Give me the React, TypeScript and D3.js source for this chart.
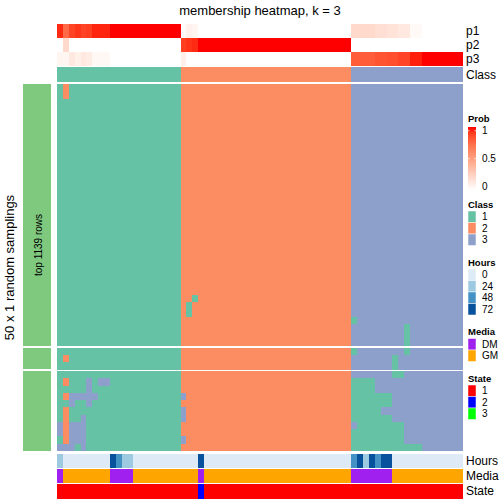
import React from 'react';
import * as d3 from 'd3';

const TITLE = 'membership heatmap, k = 3';
const ROW_TITLE = '50 x 1 random samplings';
const SLICE_LABEL = 'top 1139 rows';

// class of each sampled column (69 columns)
const colClass = [
  1, 1, 1, 1, 1, 1, 1, 1, 1, 1, 1, 1, 1, 1, 1, 1, 1, 1, 1, 1, 1,
  2, 2, 2, 2, 2, 2, 2, 2, 2, 2, 2, 2, 2, 2, 2, 2, 2, 2, 2, 2, 2, 2, 2, 2, 2, 2, 2, 2, 2,
  3, 3, 3, 3, 3, 3, 3, 3, 3, 3, 3, 3, 3, 3, 3, 3, 3, 3, 3,
];

const p1 = [
  0.95, 0.75, 0.88, 0.92, 0.88, 0.9, 0.96, 0.96, 0.96, 1, 1, 1, 1, 1, 1, 1, 1, 1, 1, 1, 1,
  0.02, 0.07, 0.05, 0, 0, 0, 0, 0, 0, 0, 0, 0, 0, 0, 0, 0, 0, 0, 0, 0, 0, 0, 0, 0, 0, 0, 0, 0, 0,
  0.2, 0.2, 0.2, 0.2, 0.17, 0.17, 0.15, 0.15, 0.12, 0.12, 0.03, 0.03, 0, 0, 0, 0, 0, 0, 0,
];
const p2 = [
  0, 0.2, 0, 0, 0, 0, 0, 0, 0, 0, 0, 0, 0, 0, 0, 0, 0, 0, 0, 0, 0,
  0.9, 0.93, 0.95, 1, 1, 1, 1, 1, 1, 1, 1, 1, 1, 1, 1, 1, 1, 1, 1, 1, 1, 1, 1, 1, 1, 1, 1, 1, 1,
  0, 0, 0, 0, 0, 0, 0, 0, 0, 0, 0, 0, 0, 0, 0, 0, 0, 0, 0,
];
const p3 = [
  0.05, 0.05, 0.12, 0.08, 0.12, 0.1, 0.04, 0.04, 0.04, 0, 0, 0, 0, 0, 0, 0, 0, 0, 0, 0, 0,
  0.08, 0, 0, 0, 0, 0, 0, 0, 0, 0, 0, 0, 0, 0, 0, 0, 0, 0, 0, 0, 0, 0, 0, 0, 0, 0, 0, 0, 0,
  0.8, 0.8, 0.8, 0.8, 0.83, 0.83, 0.85, 0.85, 0.88, 0.88, 0.97, 0.97, 1, 1, 1, 1, 1, 1, 1,
];

const hours = [
  24, 0, 0, 0, 0, 0, 0, 0, 0, 72, 48, 24, 24, 0, 0, 0, 0, 0, 0, 0, 0, 0, 0, 0, 72,
  0, 0, 0, 0, 0, 0, 0, 0, 0, 0, 0, 0, 0, 0, 0, 0, 0, 0, 0, 0, 0, 0, 0, 0, 0,
  48, 72, 24, 72, 48, 72, 72, 0, 0, 0, 0, 0, 0, 0, 0, 0, 0, 0, 0,
];
const media = [
  'DM', 'GM', 'GM', 'GM', 'GM', 'GM', 'GM', 'GM', 'GM', 'DM', 'DM', 'DM', 'DM',
  'GM', 'GM', 'GM', 'GM', 'GM', 'GM', 'GM', 'GM', 'GM', 'GM', 'GM', 'DM',
  'GM', 'GM', 'GM', 'GM', 'GM', 'GM', 'GM', 'GM', 'GM', 'GM', 'GM', 'GM', 'GM',
  'GM', 'GM', 'GM', 'GM', 'GM', 'GM', 'GM', 'GM', 'GM', 'GM', 'GM', 'GM',
  'DM', 'DM', 'DM', 'DM', 'DM', 'DM', 'DM',
  'GM', 'GM', 'GM', 'GM', 'GM', 'GM', 'GM', 'GM', 'GM', 'GM', 'GM', 'GM',
];
const state = [
  '1', '1', '1', '1', '1', '1', '1', '1', '1', '1', '1', '1', '1', '1', '1', '1', '1', '1', '1', '1', '1', '1', '1', '1',
  '2',
  '1', '1', '1', '1', '1', '1', '1', '1', '1', '1', '1', '1', '1', '1', '1', '1', '1', '1', '1', '1', '1', '1', '1', '1', '1',
  '1', '1', '1', '1', '1', '1', '1', '1', '1', '1', '1', '1', '1', '1', '1', '1', '1', '1', '1',
];

// rows per slice of the membership body
const sliceSizes = [36, 3, 11];
// cells whose class differs from the column class: [slice, row, fromCol, toCol, class]
const cellOverrides: number[][] = [
  [0, 0, 1, 1, 2], [0, 1, 1, 1, 2],
  [0, 29, 23, 23, 1], [0, 30, 22, 22, 1], [0, 31, 22, 22, 1],
  [0, 32, 50, 50, 1], [0, 33, 59, 59, 1], [0, 34, 59, 59, 1], [0, 35, 59, 59, 1],
  [1, 0, 50, 50, 1], [1, 0, 59, 59, 1], [1, 1, 1, 1, 2], [1, 1, 57, 57, 1], [1, 2, 57, 57, 1],
  [2, 0, 57, 58, 1],
  [2, 1, 1, 1, 2], [2, 1, 5, 5, 3], [2, 1, 7, 8, 3], [2, 1, 50, 53, 1],
  [2, 2, 5, 5, 3], [2, 2, 50, 53, 1],
  [2, 3, 1, 1, 2], [2, 3, 2, 6, 3], [2, 3, 21, 21, 3], [2, 3, 50, 56, 1],
  [2, 4, 2, 2, 3], [2, 4, 5, 5, 3], [2, 4, 50, 56, 1],
  [2, 5, 1, 1, 2], [2, 5, 21, 21, 3], [2, 5, 50, 54, 1],
  [2, 6, 1, 1, 2], [2, 6, 4, 4, 3], [2, 6, 21, 21, 3], [2, 6, 50, 56, 1],
  [2, 7, 0, 0, 3], [2, 7, 1, 1, 2], [2, 7, 2, 4, 3], [2, 7, 51, 58, 1],
  [2, 8, 0, 0, 3], [2, 8, 1, 1, 2], [2, 8, 2, 4, 3], [2, 8, 50, 58, 1],
  [2, 9, 1, 1, 2], [2, 9, 2, 4, 3], [2, 9, 21, 21, 3], [2, 9, 50, 58, 1],
  [2, 10, 0, 2, 3], [2, 10, 4, 4, 3], [2, 10, 50, 61, 1],
];

const classLevels = ['1', '2', '3'];
const classColors = ['#66C2A5', '#FC8D62', '#8DA0CB'];
const hourLevels = ['0', '24', '48', '72'];
const hourColors = ['#DEEBF7', '#9ECAE1', '#4292C6', '#08519C'];
const mediaLevels = ['DM', 'GM'];
const mediaColors = ['#A020F0', '#FFA500'];
const stateLevels = ['1', '2', '3'];
const stateColors = ['#FF0000', '#0000FF', '#00FF00'];
const probTicks = [0, 0.5, 1];

const FONT = '"Liberation Sans", Arial, Helvetica, sans-serif';

export default function App() {
  const nCol = colClass.length;
  const x = d3.scaleBand<number>().domain(d3.range(nCol)).range([57, 463]);
  const cw = x.bandwidth();
  const classColor = d3.scaleOrdinal<string, string>().domain(classLevels).range(classColors);
  const hourColor = d3.scaleOrdinal<string, string>().domain(hourLevels).range(hourColors);
  const mediaColor = d3.scaleOrdinal<string, string>().domain(mediaLevels).range(mediaColors);
  const stateColor = d3.scaleOrdinal<string, string>().domain(stateLevels).range(stateColors);
  const probColor = d3
    .scaleLinear<string>()
    .domain([0, 1])
    .range(['#FFFFFF', '#FF0000'])
    .interpolate(d3.interpolateLab);

  // body layout
  const bodyTop = 84;
  const bodyBottom = 451;
  const gap = 1.6;
  const nRows = d3.sum(sliceSizes);
  const rowH = (bodyBottom - bodyTop - gap * (sliceSizes.length - 1)) / nRows;
  const slices = sliceSizes.map((n, s) => {
    const y0 = bodyTop + d3.sum(sliceSizes.slice(0, s)) * rowH + s * gap;
    const y = d3.scaleBand<number>().domain(d3.range(n)).range([y0, y0 + n * rowH]);
    const rows = d3.range(n).map((r) => {
      const row = colClass.slice();
      cellOverrides
        .filter((o) => o[0] === s && o[1] === r)
        .forEach((o) => {
          for (let c = o[2]; c <= o[3]; c++) row[c] = o[4];
        });
      return row;
    });
    return { y, rows, y0, y1: y0 + n * rowH };
  });

  const topRows = [
    { name: 'p1', vals: p1, y0: 24, y1: 38 },
    { name: 'p2', vals: p2, y0: 38, y1: 52 },
    { name: 'p3', vals: p3, y0: 52, y1: 66 },
  ];
  const classRow = { y0: 67, y1: 82.3 };
  const bottomRows = [
    { name: 'Hours', vals: hours.map(String), color: hourColor, y0: 454, y1: 467.8 },
    { name: 'Media', vals: media, color: mediaColor, y0: 469, y1: 482.8 },
    { name: 'State', vals: state, color: stateColor, y0: 484, y1: 498.7 },
  ];

  // legends
  const legX = 468;
  const sqW = 8;
  const sqH = 11.5;
  const legGap = 16.5;
  const titleToItems = 7;
  const discrete = [
    { title: 'Class', levels: classLevels, color: classColor },
    { title: 'Hours', levels: hourLevels, color: hourColor },
    { title: 'Media', levels: mediaLevels, color: mediaColor },
    { title: 'State', levels: stateLevels, color: stateColor },
  ];
  let cursor = 204; // title centre of first discrete legend
  const legends = discrete.map((d) => {
    const t = cursor;
    const y0 = t + titleToItems;
    cursor = y0 + d.levels.length * sqH + legGap;
    return { ...d, tc: t, y0 };
  });
  const probY = d3.scaleLinear().domain([0, 1]).range([186.5, 130.7]);

  const midBody = (bodyTop + bodyBottom) / 2;

  return (
    <svg
      width={504}
      height={504}
      style={{ position: 'absolute', left: 0, top: 0, background: '#fff' }}
      fontFamily={FONT}
    >
      <defs>
        <linearGradient id="probGrad" x1="0" y1="1" x2="0" y2="0">
          {d3.range(11).map((i) => (
            <stop key={i} offset={`${i * 10}%`} stopColor={probColor(i / 10)} />
          ))}
        </linearGradient>
      </defs>
      <text x={260} y={15} textAnchor="middle" fontSize={13} fill="#000">
        {TITLE}
      </text>

      {/* top probability rows */}
      <g shapeRendering="crispEdges">
        {topRows.map((tr) =>
          tr.vals.map((v, c) => (
            <rect
              key={tr.name + c}
              x={x(c)}
              y={tr.y0}
              width={cw + 0.3}
              height={tr.y1 - tr.y0}
              fill={probColor(v)}
            />
          ))
        )}
        {colClass.map((k, c) => (
          <rect
            key={'cl' + c}
            x={x(c)}
            y={classRow.y0}
            width={cw + 0.3}
            height={classRow.y1 - classRow.y0}
            fill={classColor(String(k))}
          />
        ))}
      </g>
      {topRows.map((tr) => (
        <text key={'l' + tr.name} x={466} y={(tr.y0 + tr.y1) / 2 + 4} fontSize={12}>
          {tr.name}
        </text>
      ))}
      <text x={466} y={(classRow.y0 + classRow.y1) / 2 + 4} fontSize={12}>
        Class
      </text>

      {/* body */}
      <g shapeRendering="crispEdges">
        {slices.map((sl, s) =>
          sl.rows.map((row, r) =>
            row.map((k, c) => (
              <rect
                key={`${s}-${r}-${c}`}
                x={x(c)}
                y={sl.y(r)}
                width={cw + 0.3}
                height={sl.y.bandwidth() + 0.3}
                fill={classColor(String(k))}
              />
            ))
          )
        )}
        {slices.map((sl, s) => (
          <rect key={'lb' + s} x={23} y={sl.y0} width={28} height={sl.y1 - sl.y0} fill="#7FC97F" />
        ))}
      </g>
      <text
        transform={`translate(41.5, 245) rotate(-90)`}
        textAnchor="middle"
        fontSize={10}
        fill="#000"
      >
        {SLICE_LABEL}
      </text>
      <text
        transform={`translate(14, ${midBody}) rotate(-90)`}
        textAnchor="middle"
        fontSize={13}
        fill="#000"
      >
        {ROW_TITLE}
      </text>

      {/* bottom annotations */}
      <g shapeRendering="crispEdges">
        {bottomRows.map((br) =>
          br.vals.map((v, c) => (
            <rect
              key={br.name + c}
              x={x(c)}
              y={br.y0}
              width={cw + 0.3}
              height={br.y1 - br.y0}
              fill={br.color(v)}
            />
          ))
        )}
      </g>
      {bottomRows.map((br) => (
        <text key={'bl' + br.name} x={466} y={(br.y0 + br.y1) / 2 + 4} fontSize={12}>
          {br.name}
        </text>
      ))}

      {/* legends */}
      <text x={legX} y={121.5} fontSize={9.5} fontWeight="bold">
        Prob
      </text>
      <rect x={legX} y={127} width={sqW} height={63} fill="url(#probGrad)" />
      {probTicks.map((t) => (
        <g key={'pt' + t}>
          {t > 0 && (
            <>
              <line x1={legX} x2={legX + 1.5} y1={probY(t)} y2={probY(t)} stroke="#fff" strokeWidth={0.8} />
              <line x1={legX + 6.5} x2={legX + 8} y1={probY(t)} y2={probY(t)} stroke="#fff" strokeWidth={0.8} />
            </>
          )}
          <text x={legX + 14} y={probY(t) + 3.5} fontSize={10}>
            {String(t)}
          </text>
        </g>
      ))}
      {legends.map((lg) => (
        <g key={lg.title}>
          <text x={legX} y={lg.tc + 3.5} fontSize={9.5} fontWeight="bold">
            {lg.title}
          </text>
          {lg.levels.map((lv, i) => (
            <g key={lv}>
              <rect
                x={legX}
                y={lg.y0 + i * sqH}
                width={sqW}
                height={sqH}
                fill={lg.color(lv)}
                stroke="#fff"
                strokeWidth={0.5}
              />
              <text x={legX + 14} y={lg.y0 + i * sqH + sqH / 2 + 3.5} fontSize={10}>
                {lv}
              </text>
            </g>
          ))}
        </g>
      ))}
    </svg>
  );
}
